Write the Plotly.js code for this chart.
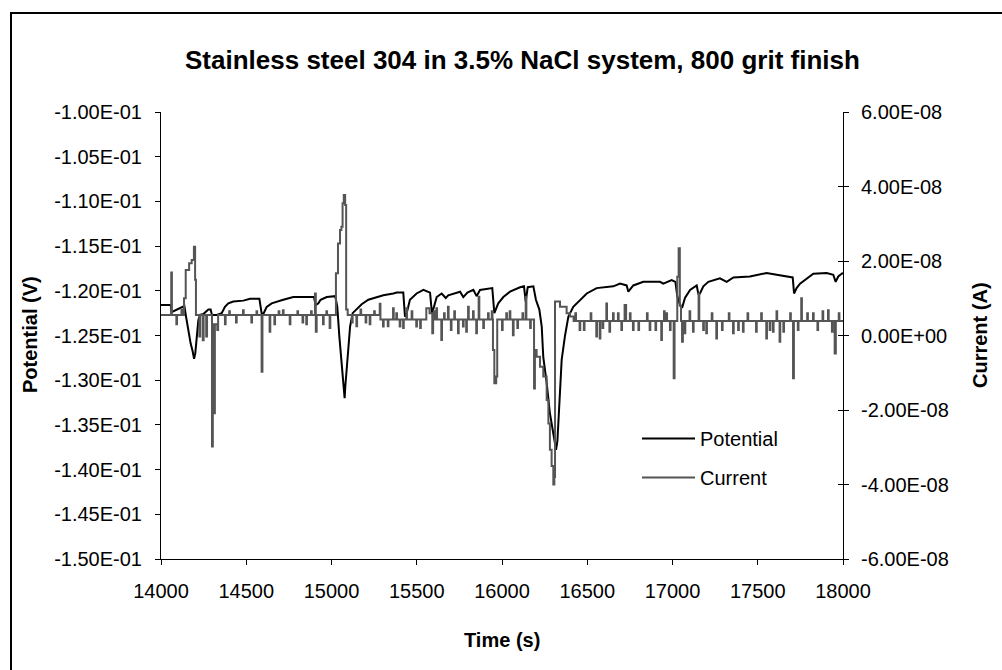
<!DOCTYPE html>
<html>
<head>
<meta charset="utf-8">
<script src="https://cdn.plot.ly/plotly-3.0.1.min.js"></script>
<style>
html,body{margin:0;padding:0;background:#fff;}
#chart{width:1002px;height:670px;}
</style>
</head>
<body>
<div id="chart"></div>
<script>
// ---- data ----
const timeP = [14000,14057,14061,14072,14092,14121,14137,14147,14160,14174,
14186,14194,14201,14209,14219,14229,14248,14278,14291,14299,
14327,14356,14375,14395,14424,14483,14522,14577,14590,14600,
14620,14649,14678,14717,14776,14835,14897,14907,14923,14936,
14972,15022,15034,15046,15060,15069,15077,15081,15089,15099,
15109,15124,15148,15177,15216,15265,15304,15363,15382,15421,
15431,15441,15460,15499,15539,15578,15589,15601,15617,15646,
15670,15685,15714,15754,15773,15797,15832,15851,15871,15910,
15943,15955,15978,16008,16047,16106,16129,16139,16151,16184,
16199,16219,16233,16242,16262,16281,16301,16317,16325,16334,
16340,16350,16369,16389,16418,16457,16497,16555,16653,16692,
16731,16741,16770,16829,16927,16946,16995,17017,17028,17044,
17058,17073,17103,17142,17151,17161,17181,17210,17239,17278,
17318,17357,17454,17513,17552,17611,17669,17705,17713,17728,
17748,17787,17826,17904,17943,17957,17972,17992,18000];
const potential = [-0.1216,-0.1216,-0.1224,-0.1223,-0.1221,-0.1218,-0.1217,-0.1229,-0.1244,-0.1259,
-0.1268,-0.1276,-0.1270,-0.1251,-0.1233,-0.1227,-0.1226,-0.1221,-0.1221,-0.1227,
-0.1227,-0.1225,-0.1218,-0.1214,-0.1212,-0.1211,-0.1209,-0.1209,-0.1225,-0.1226,
-0.1218,-0.1214,-0.1212,-0.1210,-0.1207,-0.1207,-0.1207,-0.1216,-0.1214,-0.1210,
-0.1207,-0.1206,-0.1218,-0.1251,-0.1281,-0.1303,-0.1320,-0.1307,-0.1285,-0.1262,
-0.1240,-0.1225,-0.1220,-0.1215,-0.1210,-0.1207,-0.1205,-0.1203,-0.1202,-0.1202,
-0.1229,-0.1225,-0.1210,-0.1203,-0.1199,-0.1202,-0.1225,-0.1218,-0.1207,-0.1203,
-0.1208,-0.1205,-0.1203,-0.1201,-0.1207,-0.1202,-0.1199,-0.1206,-0.1199,-0.1198,
-0.1197,-0.1225,-0.1214,-0.1207,-0.1201,-0.1196,-0.1195,-0.1212,-0.1196,-0.1195,
-0.1210,-0.1221,-0.1240,-0.1274,-0.1303,-0.1337,-0.1359,-0.1378,-0.1368,-0.1340,
-0.1311,-0.1277,-0.1251,-0.1229,-0.1218,-0.1210,-0.1203,-0.1197,-0.1195,-0.1192,
-0.1194,-0.1201,-0.1194,-0.1190,-0.1190,-0.1192,-0.1188,-0.1190,-0.1206,-0.1216,
-0.1218,-0.1208,-0.1199,-0.1194,-0.1203,-0.1203,-0.1195,-0.1190,-0.1188,-0.1186,
-0.1190,-0.1185,-0.1184,-0.1182,-0.1180,-0.1182,-0.1184,-0.1185,-0.1203,-0.1197,
-0.1192,-0.1186,-0.1181,-0.1180,-0.1182,-0.1190,-0.1184,-0.1181,-0.1180];

const timeI = [
14000,14060,14064,14090,14094,14120,14124,14135,14145,14165,
14180,14193,14200,14205,14225,14230,14245,14250,14265,14270,
14299,14304,14311,14316,14330,14335,14375,14379,14400,14404,
14440,14444,14481,14485,14530,14534,14560,14564,14590,14595,
14637,14641,14665,14669,14690,14694,14715,14719,14755,14759,
14800,14804,14830,14834,14852,14856,14880,14884,14903,14908,
14913,14950,14954,14970,14974,14989,14993,15026,15038,15050,
15058,15065,15072,15080,15086,15095,15120,15124,15146,15150,
15170,15174,15200,15204,15224,15228,15250,15254,15283,15287,
15302,15306,15330,15334,15361,15365,15380,15384,15400,15404,
15420,15424,15439,15443,15470,15474,15497,15501,15520,15524,
15556,15575,15591,15596,15600,15604,15615,15619,15644,15648,
15660,15664,15683,15687,15700,15704,15720,15724,15742,15746,
15771,15775,15790,15794,15801,15805,15830,15834,15849,15853,
15863,15867,15890,15894,15918,15922,15940,15944,15947,15955,
15966,15972,16000,16004,16025,16029,16045,16049,16064,16068,
16090,16094,16120,16124,16139,16143,16165,16169,16188,16193,
16203,16223,16242,16262,16272,16281,16291,16301,16307,16311,
16340,16379,16399,16420,16430,16434,16455,16459,16480,16484,
16520,16524,16553,16557,16573,16577,16590,16594,16612,16616,
16630,16634,16651,16655,16680,16684,16700,16704,16719,16728,
16750,16754,16768,16772,16800,16804,16850,16854,16866,16870,
16900,16904,16934,16938,16950,16954,16964,16968,16985,16989,
17007,17012,17028,17036,17043,17050,17056,17061,17071,17075,
17100,17104,17120,17124,17153,17157,17180,17184,17198,17202,
17230,17234,17257,17261,17290,17294,17330,17334,17355,17359,
17385,17389,17413,17417,17440,17444,17490,17494,17520,17524,
17550,17554,17570,17574,17589,17593,17610,17614,17628,17632,
17650,17654,17690,17694,17707,17712,17735,17739,17755,17759,
17790,17794,17824,17828,17850,17854,17880,17884,17912,17916,
17935,17939,17951,17958,17975,17979,18000];
const current = [
5.5e-9,1.69e-8,5.5e-9,3.0e-9,5.5e-9,7.0e-9,5.5e-9,1.0e-8,1.76e-8,1.94e-8,
2.03e-8,2.38e-8,1.5e-8,5.5e-9,-3e-10,5.5e-9,-1.3e-9,5.5e-9,-3e-10,5.5e-9,
-2.98e-8,3.0e-9,-2.09e-8,3.0e-9,1.5e-9,5.5e-9,3.0e-9,5.5e-9,6.5e-9,5.5e-9,
3.5e-9,5.5e-9,6.8e-9,5.5e-9,3.5e-9,5.5e-9,6.5e-9,5.5e-9,-9.7e-9,5.5e-9,
1.0e-9,5.5e-9,3.0e-9,5.5e-9,6.5e-9,5.5e-9,6.8e-9,5.5e-9,3.0e-9,5.5e-9,
6.5e-9,5.5e-9,3.5e-9,5.5e-9,3.0e-9,5.5e-9,6.5e-9,5.5e-9,1.13e-8,1.0e-9,
5.5e-9,3.0e-9,5.5e-9,6.5e-9,5.5e-9,2.0e-9,5.5e-9,1.67e-8,2.47e-8,2.83e-8,
2.92e-8,3.55e-8,3.77e-8,3.5e-8,7.0e-9,5.5e-9,3.5e-9,5.5e-9,2.5e-9,5.5e-9,
7.0e-9,5.5e-9,3.5e-9,5.5e-9,3.0e-9,5.5e-9,6.5e-9,5.5e-9,8.5e-9,4.3e-9,
2.4e-9,4.3e-9,2.5e-9,4.3e-9,7.3e-9,4.3e-9,6.0e-9,4.3e-9,2.4e-9,4.3e-9,
2.0e-9,4.3e-9,7.3e-9,4.3e-9,6.5e-9,4.3e-9,2.4e-9,4.3e-9,2.0e-9,4.3e-9,
7.3e-9,6.0e-9,6e-10,4.3e-9,6.5e-9,4.3e-9,7.3e-9,4.3e-9,-1.2e-9,4.3e-9,
6.0e-9,4.3e-9,7.7e-9,4.3e-9,1.5e-9,4.3e-9,6.5e-9,4.3e-9,6e-10,4.3e-9,
2.4e-9,4.3e-9,1.0e-9,4.3e-9,7.7e-9,4.3e-9,6.5e-9,4.3e-9,6e-10,4.3e-9,
1.04e-8,4.3e-9,2.0e-9,4.3e-9,6.0e-9,4.3e-9,6.5e-9,4.3e-9,-3.9e-9,-1.28e-8,
-1.1e-8,4.3e-9,1.5e-9,4.3e-9,6.0e-9,4.3e-9,6.5e-9,4.3e-9,1e-10,4.3e-9,
2.0e-9,4.3e-9,6.0e-9,4.3e-9,1.04e-8,4.3e-9,2.0e-9,4.3e-9,-1.42e-8,-3.9e-9,
-5.7e-9,-8.4e-9,-1.1e-8,-1.73e-8,-2.36e-8,-3.07e-8,-3.5e-8,-4.0e-8,-3.8e-8,9.1e-9,
7.7e-9,6.0e-9,5.1e-9,3.9e-9,6.0e-9,3.9e-9,1.5e-9,3.9e-9,1.5e-9,3.9e-9,
6.0e-9,3.9e-9,-3e-10,3.9e-9,-8e-10,3.9e-9,2.0e-9,3.9e-9,8.6e-9,3.9e-9,
1.0e-9,3.9e-9,6.0e-9,3.9e-9,6.0e-9,3.9e-9,1.5e-9,3.9e-9,8.2e-9,3.9e-9,
6.0e-9,3.9e-9,1.5e-9,3.9e-9,1.5e-9,3.9e-9,6.0e-9,3.9e-9,1.5e-9,3.9e-9,
1.5e-9,3.9e-9,-1.2e-9,3.9e-9,6.5e-9,3.9e-9,6.0e-9,3.9e-9,1.5e-9,3.9e-9,
-1.15e-8,3.9e-9,1.58e-8,2.34e-8,8.0e-9,3.9e-9,-1.7e-9,3.9e-9,6e-10,3.9e-9,
6.5e-9,3.9e-9,1.0e-9,3.9e-9,1.13e-8,3.9e-9,1.5e-9,3.9e-9,6e-10,3.9e-9,
6.0e-9,3.9e-9,-8e-10,3.9e-9,1.5e-9,3.9e-9,6.0e-9,3.9e-9,6e-10,3.9e-9,
1.5e-9,3.9e-9,1.0e-9,3.9e-9,6.0e-9,3.9e-9,1.0e-9,3.9e-9,6.0e-9,3.9e-9,
-8e-10,3.9e-9,1.5e-9,3.9e-9,1.0e-9,3.9e-9,6.5e-9,3.9e-9,-1.7e-9,3.9e-9,
1.0e-9,3.9e-9,6.0e-9,3.9e-9,-1.15e-8,3.9e-9,1.5e-9,3.9e-9,1.0e-8,3.9e-9,
6.0e-9,3.9e-9,6.0e-9,3.9e-9,1.5e-9,3.9e-9,6.5e-9,3.9e-9,6.8e-9,3.9e-9,
1.0e-9,3.9e-9,-4.8e-9,3.9e-9,6.0e-9,3.9e-9,3.9e-9];

const xTicks = [14000,14500,15000,15500,16000,16500,17000,17500,18000];
const leftTicks = [-0.150,-0.145,-0.140,-0.135,-0.130,-0.125,-0.120,-0.115,-0.110,-0.105,-0.100];
const rightTicks = [-6e-8,-4e-8,-2e-8,0,2e-8,4e-8,6e-8];

const titleText = "Stainless steel 304 in 3.5% NaCl system, 800 grit finish";
const xTitle = "Time (s)";
const yTitle = "Potential (V)";
const y2Title = "Current (A)";

// Excel-style scientific labels, e.g. -1.00E-01
function excelE(v){
  const s = Number(v).toExponential(2);
  const parts = s.split('e');
  let e = parseInt(parts[1],10);
  const sign = e < 0 ? '-' : '+';
  e = Math.abs(e);
  return parts[0] + 'E' + sign + (e < 10 ? '0' + e : '' + e);
}

// ---- geometry ----
const W = 1002, H = 670;
const L = 161, R = 843, T = 112, B = 559;
const pw = R - L, ph = B - T;
const px = x => (x - L) / pw;
const py = y => (B - y) / ph;

const FONT = "Liberation Sans, Arial, sans-serif";

const traces = [
  {x: timeP, y: potential, type: 'scatter', mode: 'lines', name: 'Potential',
   line: {color: '#000000', width: 2}, yaxis: 'y', legendgroup: 'a'},
  {x: timeI, y: current, type: 'scatter', mode: 'lines', name: 'Current',
   line: {color: '#555555', width: 2, shape: 'hv'}, yaxis: 'y2', legendgroup: 'b'},
  {x: [], y: [], type: 'scatter', mode: 'lines', yaxis: 'y3', showlegend: false, hoverinfo: 'skip'}
];

const axisCommon = {
  showgrid: false, zeroline: false, showline: true, linecolor: '#000', linewidth: 1,
  ticks: 'outside', ticklen: 5, tickwidth: 1, tickcolor: '#000',
  tickfont: {family: FONT, size: 20, color: '#000'}, automargin: false, fixedrange: true
};

const layout = {
  width: W, height: H,
  margin: {l: L, r: W - R, t: T, b: H - B, pad: 0},
  paper_bgcolor: '#ffffff', plot_bgcolor: '#ffffff',
  font: {family: FONT, size: 20, color: '#000'},
  showlegend: true,
  legend: {x: px(637), y: py(419), xanchor: 'left', yanchor: 'top',
           bgcolor: 'rgba(0,0,0,0)', borderwidth: 0, itemwidth: 53,
           font: {family: FONT, size: 20, color: '#000'},
           traceorder: 'grouped', tracegroupgap: 10},
  xaxis: Object.assign({}, axisCommon, {range: [14000, 18000], tickmode: 'array', tickvals: xTicks,
          ticktext: xTicks.map(String), ticklabelstandoff: 9}),
  yaxis: Object.assign({}, axisCommon, {range: [-0.15, -0.10], tickmode: 'array', tickvals: leftTicks,
          ticktext: leftTicks.map(excelE), ticklabelstandoff: 9}),
  yaxis2: Object.assign({}, axisCommon, {range: [-6e-8, 6e-8], overlaying: 'y', side: 'right',
          tickmode: 'array', tickvals: rightTicks, ticktext: rightTicks.map(excelE), ticklabelstandoff: 8}),
  yaxis3: Object.assign({}, axisCommon, {range: [-6e-8, 6e-8], overlaying: 'y', side: 'right',
          tickmode: 'array', tickvals: rightTicks, ticks: 'inside', showticklabels: false, showline: false}),
  annotations: [
    {text: '<b>' + titleText + '</b>', xref: 'paper', yref: 'paper', x: px(522), y: py(60),
     xanchor: 'center', yanchor: 'middle', showarrow: false, font: {family: FONT, size: 26, color: '#000'}},
    {text: '<b>' + xTitle + '</b>', xref: 'paper', yref: 'paper', x: px(502), y: py(640),
     xanchor: 'center', yanchor: 'middle', showarrow: false, font: {family: FONT, size: 20, color: '#000'}},
    {text: '<b>' + yTitle + '</b>', xref: 'paper', yref: 'paper', x: px(30), y: py(335),
     xanchor: 'center', yanchor: 'middle', textangle: -90, showarrow: false, font: {family: FONT, size: 20, color: '#000'}},
    {text: '<b>' + y2Title + '</b>', xref: 'paper', yref: 'paper', x: px(980), y: py(335),
     xanchor: 'center', yanchor: 'middle', textangle: -90, showarrow: false, font: {family: FONT, size: 20, color: '#000'}}
  ],
  shapes: [
    {type: 'rect', xref: 'paper', yref: 'paper', x0: px(11), y0: py(13), x1: px(1030), y1: py(700),
     line: {color: '#000', width: 2}, fillcolor: 'rgba(0,0,0,0)', layer: 'below'}
  ]
};

Plotly.newPlot('chart', traces, layout, {displayModeBar: false, staticPlot: true});
</script>
</body>
</html>
